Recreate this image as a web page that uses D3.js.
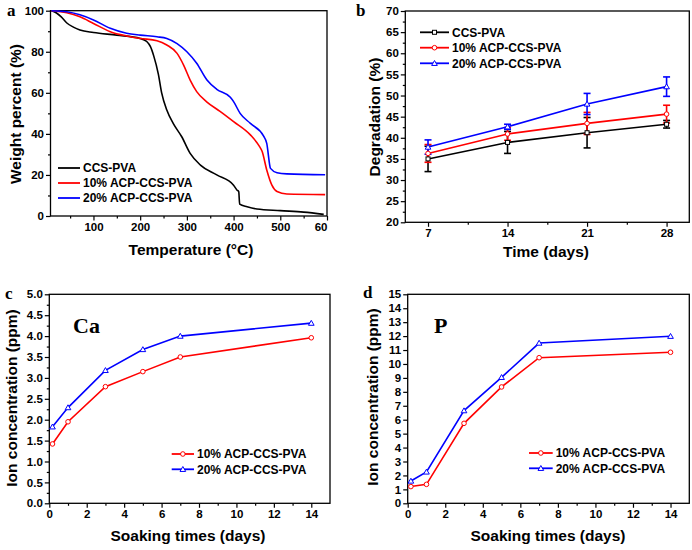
<!DOCTYPE html>
<html><head><meta charset="utf-8">
<script src="https://cdn.jsdelivr.net/npm/d3@7"></script>
<style>
body{margin:0;background:#fff;}
svg{display:block;font-family:"Liberation Sans",Arial,sans-serif;font-weight:bold;}
</style></head>
<body><svg id="c" width="692" height="550"></svg>
<script>
// ---------- Data ----------
// Panel a: TGA curves [temperature, weight %]
const tgaCCS = [[10,100],[20,99],[31,97],[43,94],[57,92],[71,90.6],[100,89.4],[150,88.1],[200,86.5],[214,85],[222,82.5],[229,78],[239,69],[246,60],[257,51.6],[271,45],[289,38.6],[307,30.5],[329,24.8],[364,20],[400,15],[407,12.7],[411,11.9],[413,5.8],[429,4.5],[450,3.4],[500,2.6],[550,1.9],[593,0.8]];
const tga10 = [[10,100],[43,99],[71,97],[100,93.8],[136,89.8],[171,87.7],[200,86.5],[236,85.4],[257,83.3],[279,79.2],[293,73.5],[307,66.2],[321,60.6],[343,55.5],[371,51],[400,46],[436,39.5],[455,34],[461,31.5],[471,22.4],[482,15],[493,11.9],[514,10.7],[596,10.4]];
const tga20 = [[10,100],[43,99.5],[71,98],[100,95.5],[136,91.4],[171,89],[200,88.1],[236,87.3],[257,86.5],[279,84],[300,80],[321,74.4],[343,66.2],[364,61.7],[393,57.8],[400,55.7],[414,50],[436,45.1],[464,39],[471,35.4],[479,23.2],[493,21.1],[514,20.5],[596,20.1]];
const tgaXTicks = [100,200,300,400,500,600];
const tgaXLabels = ["100","200","300","400","500","60"];

// Panel b: degradation
const degDays = [7,14,21,28];
const degCCS = [35,38.9,41.2,43.2];
const degCCSErr = [3,2.6,3.6,0.9];
const deg10 = [36.3,40.9,43.4,45.6];
const deg10Err = [2.1,1.5,2.6,2.1];
const deg20 = [37.8,42.6,48,52.1];
const deg20Err = [1.7,0.6,2.5,2.3];

// Panels c, d: ion release
const soakDays = [0.17,1,3,5,7,14];
const ca10 = [1.42,1.95,2.79,3.15,3.5,3.96];
const ca20 = [1.83,2.29,3.18,3.68,4.0,4.31];
const p10 = [1.2,1.36,5.74,8.35,10.45,10.84];
const p20 = [1.6,2.25,6.65,9.04,11.5,11.99];

const names = ["CCS-PVA","10% ACP-CCS-PVA","20% ACP-CCS-PVA"];
const colors = ["#000000","#ff0000","#0000ff"];

// ---------- Helpers ----------
const svg = d3.select("#c");
const TF = 11.5, LF = 15.5;

function frame(g, x, y, o){
  const [x0,x1] = x.range(), [y1,y0] = y.range();
  const xa = g.append("g").attr("transform",`translate(0,${y1})`)
    .call(d3.axisBottom(x).tickValues(o.xTicks).tickSize(4.5).tickPadding(2).tickFormat(o.xFmt));
  const xm = g.append("g").attr("transform",`translate(0,${y1})`)
    .call(d3.axisBottom(x).tickValues(o.xMinor).tickSize(2.5).tickFormat(""));
  const ya = g.append("g").attr("transform",`translate(${x0},0)`)
    .call(d3.axisLeft(y).tickValues(o.yTicks).tickSize(4.5).tickPadding(2).tickFormat(o.yFmt));
  const ym = g.append("g").attr("transform",`translate(${x0},0)`)
    .call(d3.axisLeft(y).tickValues(o.yMinor).tickSize(2.5).tickFormat(""));
  [xa,xm,ya,ym].forEach(a=>{a.select(".domain").remove();a.selectAll("line").attr("stroke","#000").attr("stroke-width",1.2);
    a.selectAll("text").attr("font-size",TF).attr("font-family","Liberation Sans,Arial,sans-serif").attr("font-weight","bold").attr("fill","#000");});
  g.append("rect").attr("x",x0).attr("y",y0).attr("width",x1-x0).attr("height",y1-y0)
    .attr("fill","none").attr("stroke","#000").attr("stroke-width",1.3);
  return xa;
}
function titles(g, o){
  g.append("text").attr("x",o.xl[0]).attr("y",o.xl[1]).attr("text-anchor","middle").attr("font-size",LF).text(o.xt);
  g.append("text").attr("transform",`translate(${o.yl[0]},${o.yl[1]}) rotate(-90)`).attr("text-anchor","middle").attr("font-size",LF).text(o.yt);
  g.append("text").attr("x",o.pl[0]).attr("y",o.pl[1]).attr("font-family","Liberation Serif,Times New Roman,serif").attr("font-size",17).text(o.p);
}
function marker(g, type, cx, cy, col){
  if(type==="sq") g.append("rect").attr("x",cx-2).attr("y",cy-2).attr("width",4).attr("height",4).attr("fill","#fff").attr("stroke",col).attr("stroke-width",1);
  else if(type==="ci") g.append("circle").attr("cx",cx).attr("cy",cy).attr("r",2.3).attr("fill","#fff").attr("stroke",col).attr("stroke-width",1);
  else g.append("path").attr("d",d3.symbol(d3.symbolTriangle,14)()).attr("transform",`translate(${cx},${cy+0.5})`).attr("fill","#fff").attr("stroke",col).attr("stroke-width",1);
}
function legend(g, x0, x1, ys, idx, mk){
  idx.forEach((k,i)=>{
    g.append("line").attr("x1",x0).attr("x2",x1).attr("y1",ys[i]).attr("y2",ys[i]).attr("stroke",colors[k]).attr("stroke-width",1.8);
    if(mk) marker(g, mk[i], (x0+x1)/2, ys[i], colors[k]);
    g.append("text").attr("x",x1+3).attr("y",ys[i]+4.3).attr("font-size",12).text(names[k]);
  });
}

// ---------- Panel a ----------
{
  const g = svg.append("g");
  const x = d3.scaleLinear().domain([8,600]).range([50.5,327]);
  const y = d3.scaleLinear().domain([0,100]).range([216,10.7]);
  const xa = frame(g,x,y,{xTicks:tgaXTicks,xMinor:[50,150,250,350,450,550],xFmt:(d,i)=>tgaXLabels[i],
    yTicks:d3.range(0,101,20),yMinor:d3.range(10,100,20),yFmt:d3.format("d")});
  xa.selectAll(".tick:last-of-type text").attr("text-anchor","end").attr("dx",0);
  const line = d3.line().x(d=>x(d[0])).y(d=>y(d[1])).curve(d3.curveMonotoneX);
  [tgaCCS,tga10,tga20].forEach((s,i)=>g.append("path").datum(s).attr("d",line).attr("fill","none").attr("stroke",colors[i]).attr("stroke-width",1.6));
  legend(g,58,80,[168,183,198],[0,1,2],null);
  titles(g,{xt:"Temperature (°C)",xl:[191,255],yt:"Weight percent (%)",yl:[21,114],p:"a",pl:[7,16]});
}
// ---------- Panel b ----------
{
  const g = svg.append("g");
  const x = d3.scaleLinear().domain([5,30]).range([405.3,689.3]);
  const y = d3.scaleLinear().domain([20,70]).range([222.3,11]);
  frame(g,x,y,{xTicks:degDays,xMinor:[10.5,17.5,24.5],xFmt:d3.format("d"),
    yTicks:d3.range(20,71,5),yMinor:d3.range(22.5,70,5),yFmt:d3.format("d")});
  const sets = [[degCCS,degCCSErr,"sq"],[deg10,deg10Err,"ci"],[deg20,deg20Err,"tr"]];
  const line = d3.line().x((d,i)=>x(degDays[i])).y(d=>y(d));
  sets.forEach(([v,e,m],k)=>{
    const col = colors[k];
    g.append("path").datum(v).attr("d",line).attr("fill","none").attr("stroke",col).attr("stroke-width",1.6);
    v.forEach((d,i)=>{
      const cx = x(degDays[i]);
      g.append("line").attr("x1",cx).attr("x2",cx).attr("y1",y(d-e[i])).attr("y2",y(d+e[i])).attr("stroke",col).attr("stroke-width",1.6);
      [d-e[i],d+e[i]].forEach(t=>g.append("line").attr("x1",cx-3.5).attr("x2",cx+3.5).attr("y1",y(t)).attr("y2",y(t)).attr("stroke",col).attr("stroke-width",1.6));
    });
  });
  sets.forEach(([v,e,m],k)=>v.forEach((d,i)=>marker(g,m,x(degDays[i]),y(d),colors[k])));
  legend(g,420,449,[32.3,47.7,63.3],[0,1,2],["sq","ci","tr"]);
  titles(g,{xt:"Time (days)",xl:[546,257],yt:"Degradation (%)",yl:[380,117],p:"b",pl:[356,16]});
}
// ---------- Panels c, d ----------
function ionPanel(o){
  const g = svg.append("g");
  const x = d3.scaleLinear().domain([0,15]).range([o.x0,o.x1]);
  const y = d3.scaleLinear().domain([0,o.ymax]).range([503.3,294.3]);
  frame(g,x,y,{xTicks:d3.range(0,15,2),xMinor:d3.range(1,15,2),xFmt:d3.format("d"),
    yTicks:d3.range(0,o.ymax+o.ystep/2,o.ystep),yMinor:o.yMinor,yFmt:o.yFmt});
  const line = d3.line().x((d,i)=>x(soakDays[i])).y(d=>y(d));
  [[o.s10,1,"ci"],[o.s20,2,"tr"]].forEach(([v,k,m])=>{
    g.append("path").datum(v).attr("d",line).attr("fill","none").attr("stroke",colors[k]).attr("stroke-width",1.6);
    v.forEach((d,i)=>marker(g,m,x(soakDays[i]),y(d),colors[k]));
  });
  legend(g,o.lx0,o.lx1,o.ly,[1,2],["ci","tr"]);
  g.append("text").attr("x",o.ion[0]).attr("y",o.ion[1]).attr("font-family","Liberation Serif,Times New Roman,serif").attr("font-size",22).text(o.ionT);
  titles(g,{xt:"Soaking times (days)",xl:o.xl,yt:"Ion concentration (ppm)",yl:o.yl,p:o.p,pl:o.pl});
}
ionPanel({x0:49.3,x1:330,ymax:5,ystep:0.5,yMinor:d3.range(0.25,5,0.5),yFmt:d3.format(".1f"),s10:ca10,s20:ca20,
  lx0:171.7,lx1:194,ly:[454,469.3],ion:[73,333],ionT:"Ca",xl:[188,541],yl:[17,398],p:"c",pl:[5,299]});
ionPanel({x0:407.7,x1:689.3,ymax:15,ystep:1,yMinor:[],yFmt:d3.format("d"),s10:p10,s20:p20,
  lx0:529,lx1:552.7,ly:[453,468.3],ion:[434,333],ionT:"P",xl:[548,541],yl:[378,397],p:"d",pl:[363,298]});
</script></body></html>
